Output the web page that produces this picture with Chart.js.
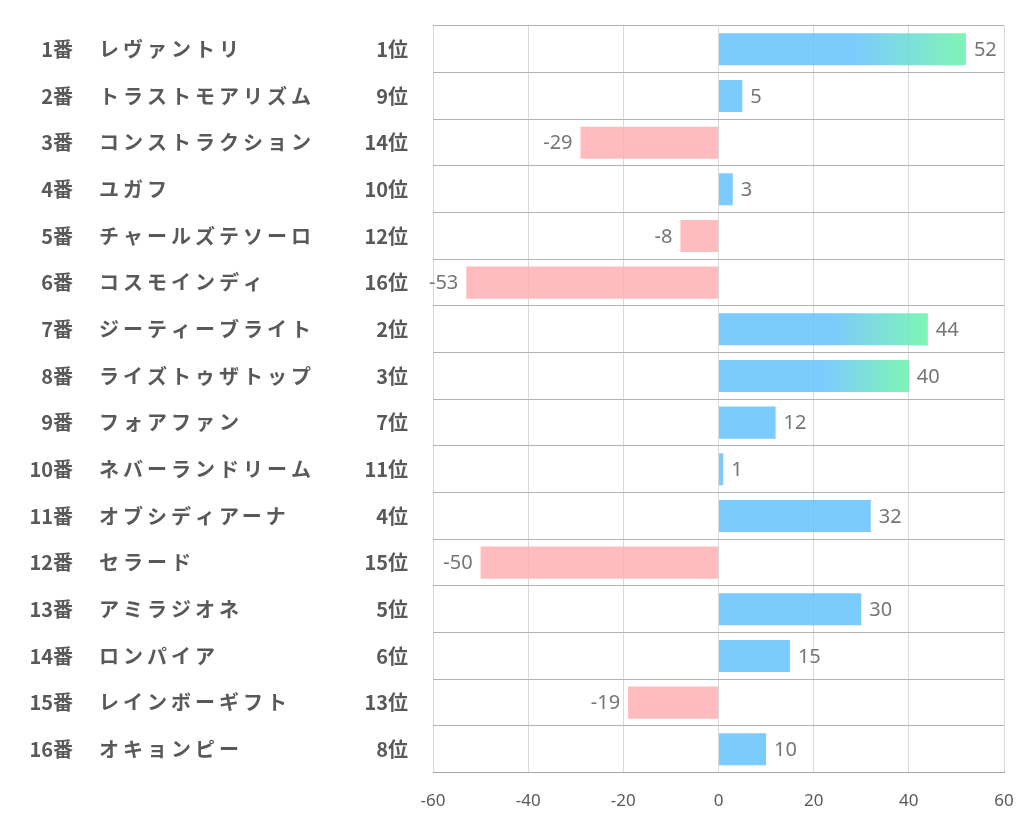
<!DOCTYPE html>
<html>
<head>
<meta charset="utf-8">
<script src="https://cdn.jsdelivr.net/npm/chart.js@4"></script>
<style>
  html, body { margin: 0; padding: 0; background: #fff; }
  #chart { display: block; }
</style>
</head>
<body>
<canvas id="chart" width="1022" height="834"></canvas>
<script>
// 馬番・馬名・順位
const horseNumbers = ['1番', '2番', '3番', '4番', '5番', '6番', '7番', '8番',
  '9番', '10番', '11番', '12番', '13番', '14番', '15番', '16番'];
const horseNames = ['レヴァントリ', 'トラストモアリズム', 'コンストラクション', 'ユガフ',
  'チャールズテソーロ', 'コスモインディ', 'ジーティーブライト', 'ライズトゥザトップ',
  'フォアファン', 'ネバーランドリーム', 'オブシディアーナ', 'セラード',
  'アミラジオネ', 'ロンパイア', 'レインボーギフト', 'オキョンピー'];
const rankLabels = ['1位', '9位', '14位', '10位', '12位', '16位', '2位', '3位',
  '7位', '11位', '4位', '15位', '5位', '6位', '13位', '8位'];
// 指数
const scores = [52, 5, -29, 3, -8, -53, 44, 40, 12, 1, 32, -50, 30, 15, -19, 10];
const xTickValues = [-60, -40, -20, 0, 20, 40, 60];
// 上位3頭はグラデーション
const highlightRanks = ['1位', '2位', '3位'];

const BLUE = 'rgba(101,194,253,0.85)';
const GREEN = 'rgba(104,243,168,0.85)';
const PINK = 'rgba(255,176,180,0.85)';
const TEXT_DARK = '#595959';
const JP_FONT = '"Noto Sans CJK JP", "Noto Sans", sans-serif';

function barColor(ctx) {
  const chart = ctx.chart;
  const v = scores[ctx.dataIndex];
  if (v < 0) return PINK;
  if (!chart.chartArea || !chart.scales.x) return BLUE;
  if (highlightRanks.indexOf(rankLabels[ctx.dataIndex]) === -1) return BLUE;
  const xs = chart.scales.x;
  const x0 = xs.getPixelForValue(0);
  const x1 = xs.getPixelForValue(v);
  const g = chart.ctx.createLinearGradient(x0, 0, x1, 0);
  g.addColorStop(0, BLUE);
  g.addColorStop(0.55, BLUE);
  g.addColorStop(1, GREEN);
  return g;
}

// 左側の3列ラベル
const leftLabels = {
  id: 'leftLabels',
  afterDraw(chart) {
    const c = chart.ctx;
    const ys = chart.scales.y;
    c.save();
    c.fillStyle = TEXT_DARK;
    c.font = 'bold 20px ' + JP_FONT;
    c.textBaseline = 'middle';
    horseNumbers.forEach((num, i) => {
      const y = ys.getPixelForValue(i);
      c.letterSpacing = '0px';
      c.textAlign = 'right';
      c.fillText(num, 73, y);
      c.fillText(rankLabels[i], 408, y);
      c.textAlign = 'left';
      c.letterSpacing = '4px';
      c.fillText(horseNames[i], 99, y);
    });
    c.restore();
  }
};

// 数値ラベル
const valueLabels = {
  id: 'valueLabels',
  afterDatasetsDraw(chart) {
    const c = chart.ctx;
    const meta = chart.getDatasetMeta(0);
    c.save();
    c.fillStyle = '#757575';
    c.font = '20px "Noto Sans", "Open Sans", sans-serif';
    c.textBaseline = 'middle';
    meta.data.forEach((bar, i) => {
      const v = scores[i];
      if (v < 0) {
        c.textAlign = 'right';
        c.fillText(String(v), bar.x - 8, bar.y + 1);
      } else {
        c.textAlign = 'left';
        c.fillText(String(v), bar.x + 8, bar.y + 1);
      }
    });
    c.restore();
  }
};

new Chart(document.getElementById('chart'), {
  type: 'bar',
  data: {
    labels: horseNames,
    datasets: [{
      data: scores,
      backgroundColor: barColor,
      borderWidth: 0,
      barPercentage: 0.687,
      categoryPercentage: 1.0
    }]
  },
  options: {
    indexAxis: 'y',
    responsive: false,
    animation: false,
    devicePixelRatio: 1,
    layout: {
      padding: { left: 433, right: 18, top: 26, bottom: 5 }
    },
    plugins: {
      legend: { display: false },
      tooltip: { enabled: false }
    },
    scales: {
      x: {
        min: -60,
        max: 60,
        afterBuildTicks(scale) {
          scale.ticks = xTickValues.map(v => ({ value: v }));
        },
        afterFit(scale) {
          scale.paddingLeft = 0;
          scale.paddingRight = 0;
        },
        grid: {
          color: '#d9d9d9',
          lineWidth: 1,
          drawTicks: false
        },
        border: { display: true, color: '#a6a6a6' },
        ticks: {
          color: TEXT_DARK,
          padding: 18,
          font: { size: 17, family: '"Noto Sans", "Open Sans", sans-serif' }
        }
      },
      y: {
        offset: true,
        grid: {
          offset: true,
          color: '#b3b3b3',
          lineWidth: 1,
          drawTicks: false
        },
        border: { display: false },
        ticks: { display: false }
      }
    }
  },
  plugins: [leftLabels, valueLabels]
});
</script>
</body>
</html>
